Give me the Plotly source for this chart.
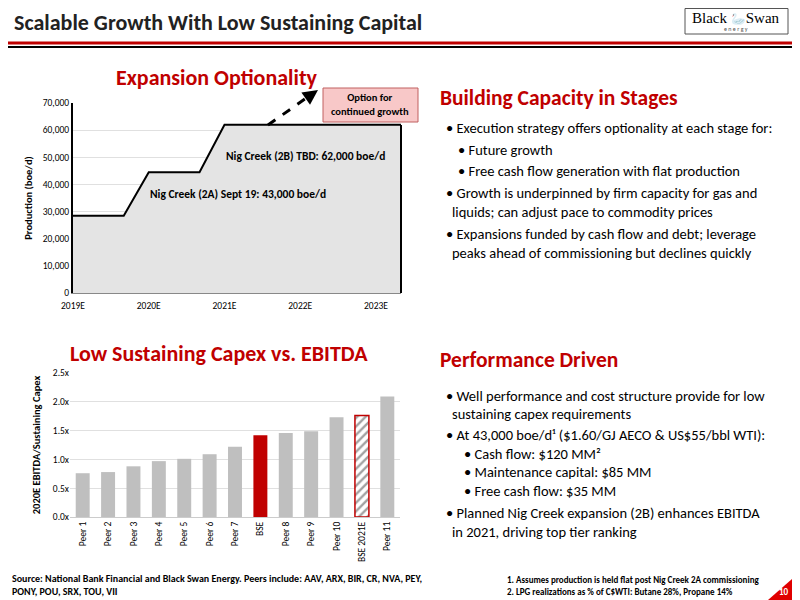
import plotly.graph_objects as go

# Top chart data
prod_x = [2019.0, 2019.67, 2020.0, 2020.67, 2021.0, 2023.33]
prod_y = [28500, 28500, 44500, 44500, 62000, 62000]
year_ticks = [2019, 2020, 2021, 2022, 2023]
year_labels = ["2019E", "2020E", "2021E", "2022E", "2023E"]

# Bottom chart data
peers = ["Peer 1", "Peer 2", "Peer 3", "Peer 4", "Peer 5", "Peer 6", "Peer 7", "BSE",
         "Peer 8", "Peer 9", "Peer 10", "BSE 2021E", "Peer 11"]
ratios = [0.76, 0.78, 0.88, 0.97, 1.01, 1.09, 1.22, 1.42, 1.46, 1.49, 1.73, 1.76, 2.09]

RED = "#C00000"
GREY = "#BFBFBF"
F = "Calibri, Carlito, Lato, sans-serif"
W, H, OFF = 792, 592, 8

def px(x): return (x - OFF) / W
def py(y): return 1 - (y - OFF) / H

colors = [RED if p == "BSE" else ("white" if p == "BSE 2021E" else GREY) for p in peers]
patterns = ["/" if p == "BSE 2021E" else "" for p in peers]
lines = [RED if p == "BSE 2021E" else "rgba(0,0,0,0)" for p in peers]

fig = go.Figure()
fig.add_trace(go.Scatter(x=prod_x, y=prod_y, mode="lines", fill="tozeroy",
                         fillcolor="#E4E4E4", line=dict(color="black", width=2),
                         xaxis="x", yaxis="y", showlegend=False, hoverinfo="skip"))
fig.add_trace(go.Bar(x=peers, y=ratios, xaxis="x2", yaxis="y2", showlegend=False,
                     marker=dict(color=colors, line=dict(color=lines, width=1.5),
                                 pattern=dict(shape=patterns, fgcolor=RED, bgcolor="white",
                                              size=6, solidity=0.4)),
                     width=0.55))

fig.update_layout(
    width=W, height=H, margin=dict(l=0, r=0, t=0, b=0),
    paper_bgcolor="white", plot_bgcolor="white", font=dict(family=F, color="black"),
    xaxis=dict(domain=[px(73), px(401)], range=[2019, 2023.33], tickvals=year_ticks,
               ticktext=year_labels, tickfont=dict(size=9.5), showgrid=False, automargin=False,
               showline=True, linecolor="#888", anchor="y", ticks="", ticklabelstandoff=4),
    yaxis=dict(domain=[py(293), py(103)], range=[0, 70000], tickvals=list(range(0, 70001, 10000)),
               tickformat=",d", tickfont=dict(size=9.5), gridcolor="#E0E0E0", automargin=False,
               showline=True, linecolor="black", linewidth=2,
               title=dict(text="<b>Production (boe/d)</b>", font=dict(size=10.5), standoff=8),
               anchor="x", zeroline=False),
    xaxis2=dict(domain=[px(70), px(400)], tickangle=-90, tickfont=dict(size=9.5), automargin=False,
                showline=True, linecolor="#ccc", anchor="y2"),
    yaxis2=dict(domain=[py(517), py(373)], range=[0, 2.5], tickvals=[0, 0.5, 1, 1.5, 2, 2.5],
                ticktext=["0.0x", "0.5x", "1.0x", "1.5x", "2.0x", "2.5x"], tickfont=dict(size=9.5),
                gridcolor="#E0E0E0", zeroline=False, anchor="x2", automargin=False,
                title=dict(text="<b>2020E EBITDA/Sustaining Capex</b>", font=dict(size=10.5), standoff=10)),
)

shapes = [
    dict(type="line", xref="paper", yref="paper", x0=0, x1=1, y0=py(43), y1=py(43),
         line=dict(color=RED, width=3)),
    dict(type="line", xref="paper", yref="paper", x0=0, x1=1, y0=py(47), y1=py(47),
         line=dict(color="black", width=2)),
    dict(type="rect", xref="paper", yref="paper", x0=px(685), x1=px(788), y0=py(34), y1=py(8.5),
         line=dict(color="#555", width=1), fillcolor="white"),
    dict(type="line", xref="paper", yref="paper", x0=px(268), x1=px(312), y0=py(125), y1=py(94),
         line=dict(color="black", width=3, dash="dash")),
    dict(type="rect", xref="paper", yref="paper", x0=px(323), x1=px(418), y0=py(122), y1=py(88),
         line=dict(color="#C06060", width=1), fillcolor="#F8C8C8"),
    dict(type="line", xref="paper", yref="paper", x0=px(401), x1=px(401), y0=py(293), y1=py(125),
         line=dict(color="black", width=2)),
    dict(type="path", xref="paper", yref="paper",
         path=f"M {px(768)},{py(600)} L {px(800)},{py(600)} L {px(800)},{py(572)} Z",
         fillcolor="#E00000", line=dict(width=0)),
]
fig.update_layout(shapes=shapes)

ann = []
def T(x, y, text, size=13, color="black", bold=False, xanchor="left", **kw):
    if bold:
        text = f"<b>{text}</b>"
    ann.append(dict(x=px(x), y=py(y), xref="paper", yref="paper", text=text, showarrow=False,
                    xanchor=xanchor, yanchor="middle", font=dict(size=size, color=color, family=F), **kw))

T(12, 23, "Scalable Growth With Low Sustaining Capital", 22, "#222", True)
T(736, 18, "Black <span style='font-size:12px'>🦢</span>Swan",
  15, "black", False, "center", font_family="Liberation Serif")
T(736, 29, "e n e r g y", 6, "#555", False, "center")
T(217, 77, "Expansion Optionality", 22, RED, True, "center")
T(68, 353, "Low Sustaining Capex vs. EBITDA", 22, RED, True, "left")
T(438, 98, "Building Capacity in Stages", 21.5, RED, True)
T(438, 360, "Performance Driven", 21.5, RED, True)
T(370, 105, "Option for<br>continued growth", 10.5, "black", True, "center")
T(224, 156, "Nig Creek (2B) TBD: 62,000 boe/d", 11.5, "black", True)
T(148, 194, "Nig Creek (2A) Sept 19: 43,000 boe/d", 11.5, "black", True)

top = [(444, 128, "• Execution strategy offers optionality at each stage for:"),
       (456, 150, "• Future growth"),
       (456, 171, "• Free cash flow generation with flat production"),
       (444, 193, "• Growth is underpinned by firm capacity for gas and"),
       (450, 212, "liquids; can adjust pace to commodity prices"),
       (444, 234, "• Expansions funded by cash flow and debt; leverage"),
       (450, 253, "peaks ahead of commissioning but declines quickly")]
bot = [(444, 396, "• Well performance and cost structure provide for low"),
       (450, 414, "sustaining capex requirements"),
       (444, 435, "• At 43,000 boe/d¹ ($1.60/GJ AECO & US$55/bbl WTI):"),
       (462, 454, "• Cash flow: $120 MM²"),
       (462, 472, "• Maintenance capital: $85 MM"),
       (462, 491, "• Free cash flow: $35 MM"),
       (444, 513, "• Planned Nig Creek expansion (2B) enhances EBITDA"),
       (450, 532, "in 2021, driving top tier ranking")]
for x, y, t in top + bot:
    T(x, y, t, 14.5)

T(10, 578, "Source: National Bank Financial and Black Swan Energy. Peers include: AAV, ARX, BIR, CR, NVA, PEY,", 10, "black", True)
T(10, 591, "PONY, POU, SRX, TOU, VII", 10, "black", True)
T(505, 579, "1. Assumes production is held flat post Nig Creek 2A commissioning", 9, "black", True)
T(505, 591, "2. LPG realizations as % of C$WTI: Butane 28%, Propane 14%", 9, "black", True)
T(784, 591, "10", 9, "white", True, "center")
ann.append(dict(x=px(318), y=py(90), ax=-10, ay=7, xref="paper", yref="paper",
                text="", showarrow=True, arrowhead=2,
                arrowsize=1, arrowwidth=3, arrowcolor="black"))
fig.update_layout(annotations=ann)

fig.write_html("out.html")
